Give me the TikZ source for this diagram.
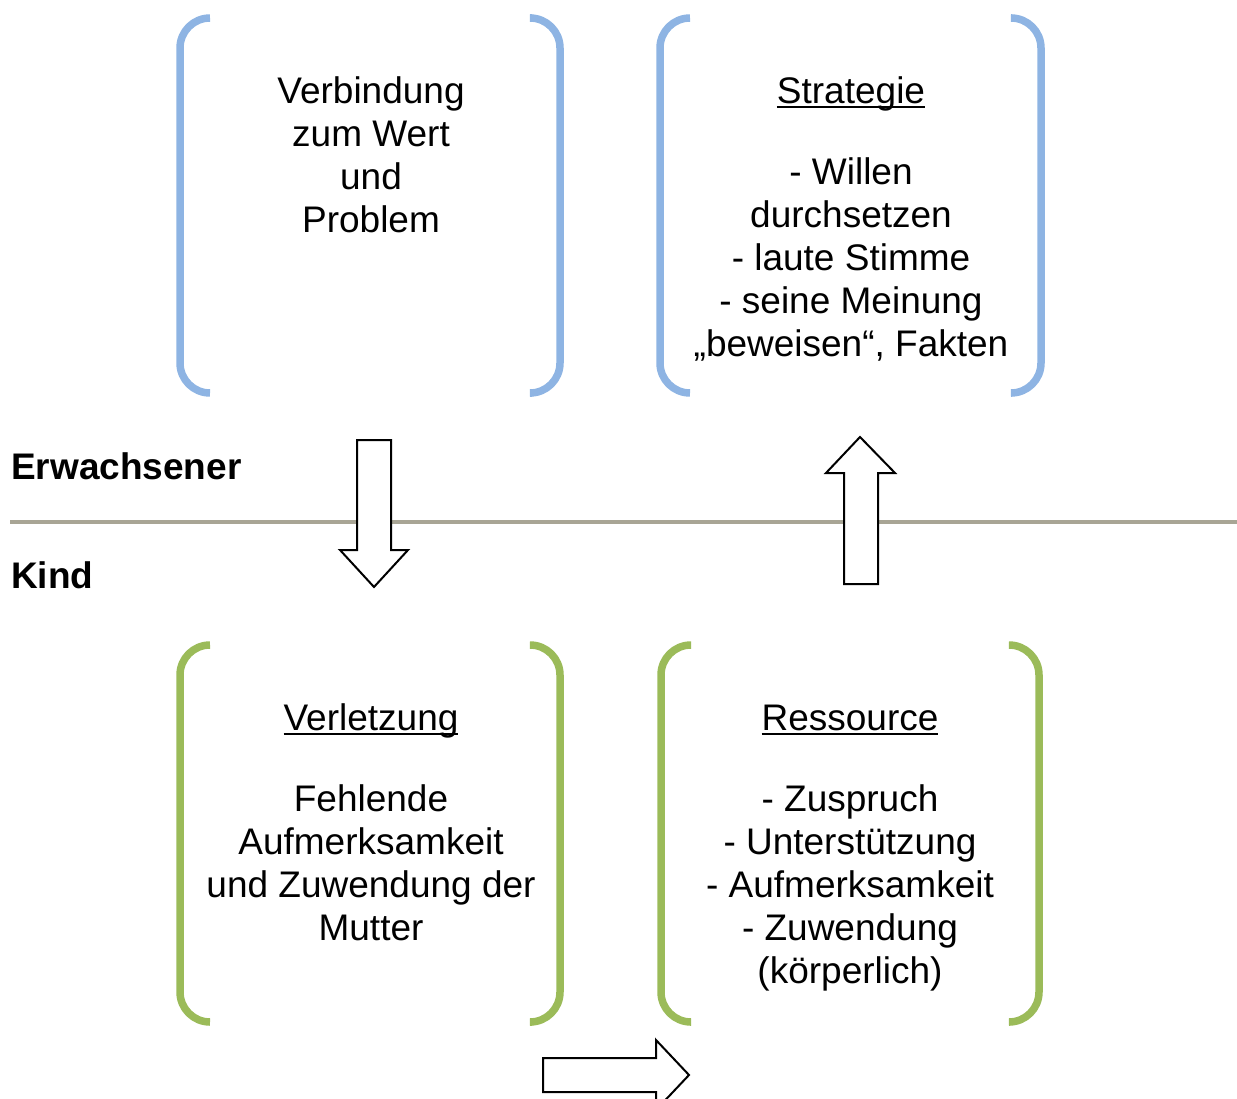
\documentclass[tikz,border=0pt]{standalone}
\usepackage{fontspec}
\setmainfont{Liberation Sans}
\newcommand{\myul}[1]{\setbox0\hbox{#1}\rlap{\rule[-5pt]{\wd0}{2.4pt}}\box0}
\definecolor{brblue}{HTML}{8EB4E3}
\definecolor{brgreen}{HTML}{9BBB59}
\definecolor{sepline}{HTML}{A8A595}
\begin{document}
\begin{tikzpicture}[x=1pt,y=-1pt,
  brk/.style={line width=7.5pt,rounded corners=30pt},
  txt/.style={font=\fontsize{37}{43}\selectfont,align=center,inner sep=0pt,anchor=base},
  lbl/.style={font=\fontsize{37}{42}\selectfont\bfseries,inner sep=0pt,anchor=base west},
  blk/.style={draw=black,line width=2pt,fill=white,line join=miter}]
\useasboundingbox (0,0) rectangle (1237,1099);
% brackets
\draw[brk,brblue] (210,18) -- (180,18) -- (180,393) -- (210,393);
\draw[brk,brblue] (532,18) -- (560,18) -- (560,393) -- (532,393);
\draw[brk,brblue] (690,18) -- (660,18) -- (660,393) -- (690,393);
\draw[brk,brblue] (1012,18) -- (1041,18) -- (1041,393) -- (1012,393);
\draw[brk,brgreen] (210,645) -- (180,645) -- (180,1022) -- (210,1022);
\draw[brk,brgreen] (532,645) -- (560,645) -- (560,1022) -- (532,1022);
\draw[brk,brgreen] (690,645) -- (661,645) -- (661,1022) -- (690,1022);
\draw[brk,brgreen] (1010,645) -- (1039,645) -- (1039,1022) -- (1010,1022);
% separator
\draw[sepline,line width=4pt] (10,522) -- (1237,522);
% labels
\node[lbl] (erw) at (11,479) {Erwachsener};
\node[lbl] (kind) at (11,588) {Kind};
% texts (base anchor = last line baseline)
\node[txt] (t1) at (371,233) {Verbindung\\zum Wert\\und\\Problem};
\node[txt] (t2) at (851,356) {\myul{Strategie}\\[38pt]- Willen\\durchsetzen\\- laute Stimme\\- seine Meinung\\„beweisen“, Fakten};
\node[txt] (t3) at (371,940) {\myul{Verletzung}\\[38pt]Fehlende\\Aufmerksamkeit\\und Zuwendung der\\Mutter};
\node[txt] (t4) at (850,983) {\myul{Ressource}\\[38pt]- Zuspruch\\- Unterstützung\\- Aufmerksamkeit\\- Zuwendung\\(körperlich)};
% block arrows
\draw[blk] (357,440) -- (391,440) -- (391,550) -- (408,550) -- (374,587) -- (340,550) -- (357,550) -- cycle;
\draw[blk] (844,584) -- (878,584) -- (878,473) -- (895,473) -- (860,437) -- (826,473) -- (844,473) -- cycle;
\draw[blk] (543,1058) -- (656,1058) -- (656,1040) -- (689,1075) -- (656,1110) -- (656,1092) -- (543,1092) -- cycle;
\end{tikzpicture}
\end{document}
